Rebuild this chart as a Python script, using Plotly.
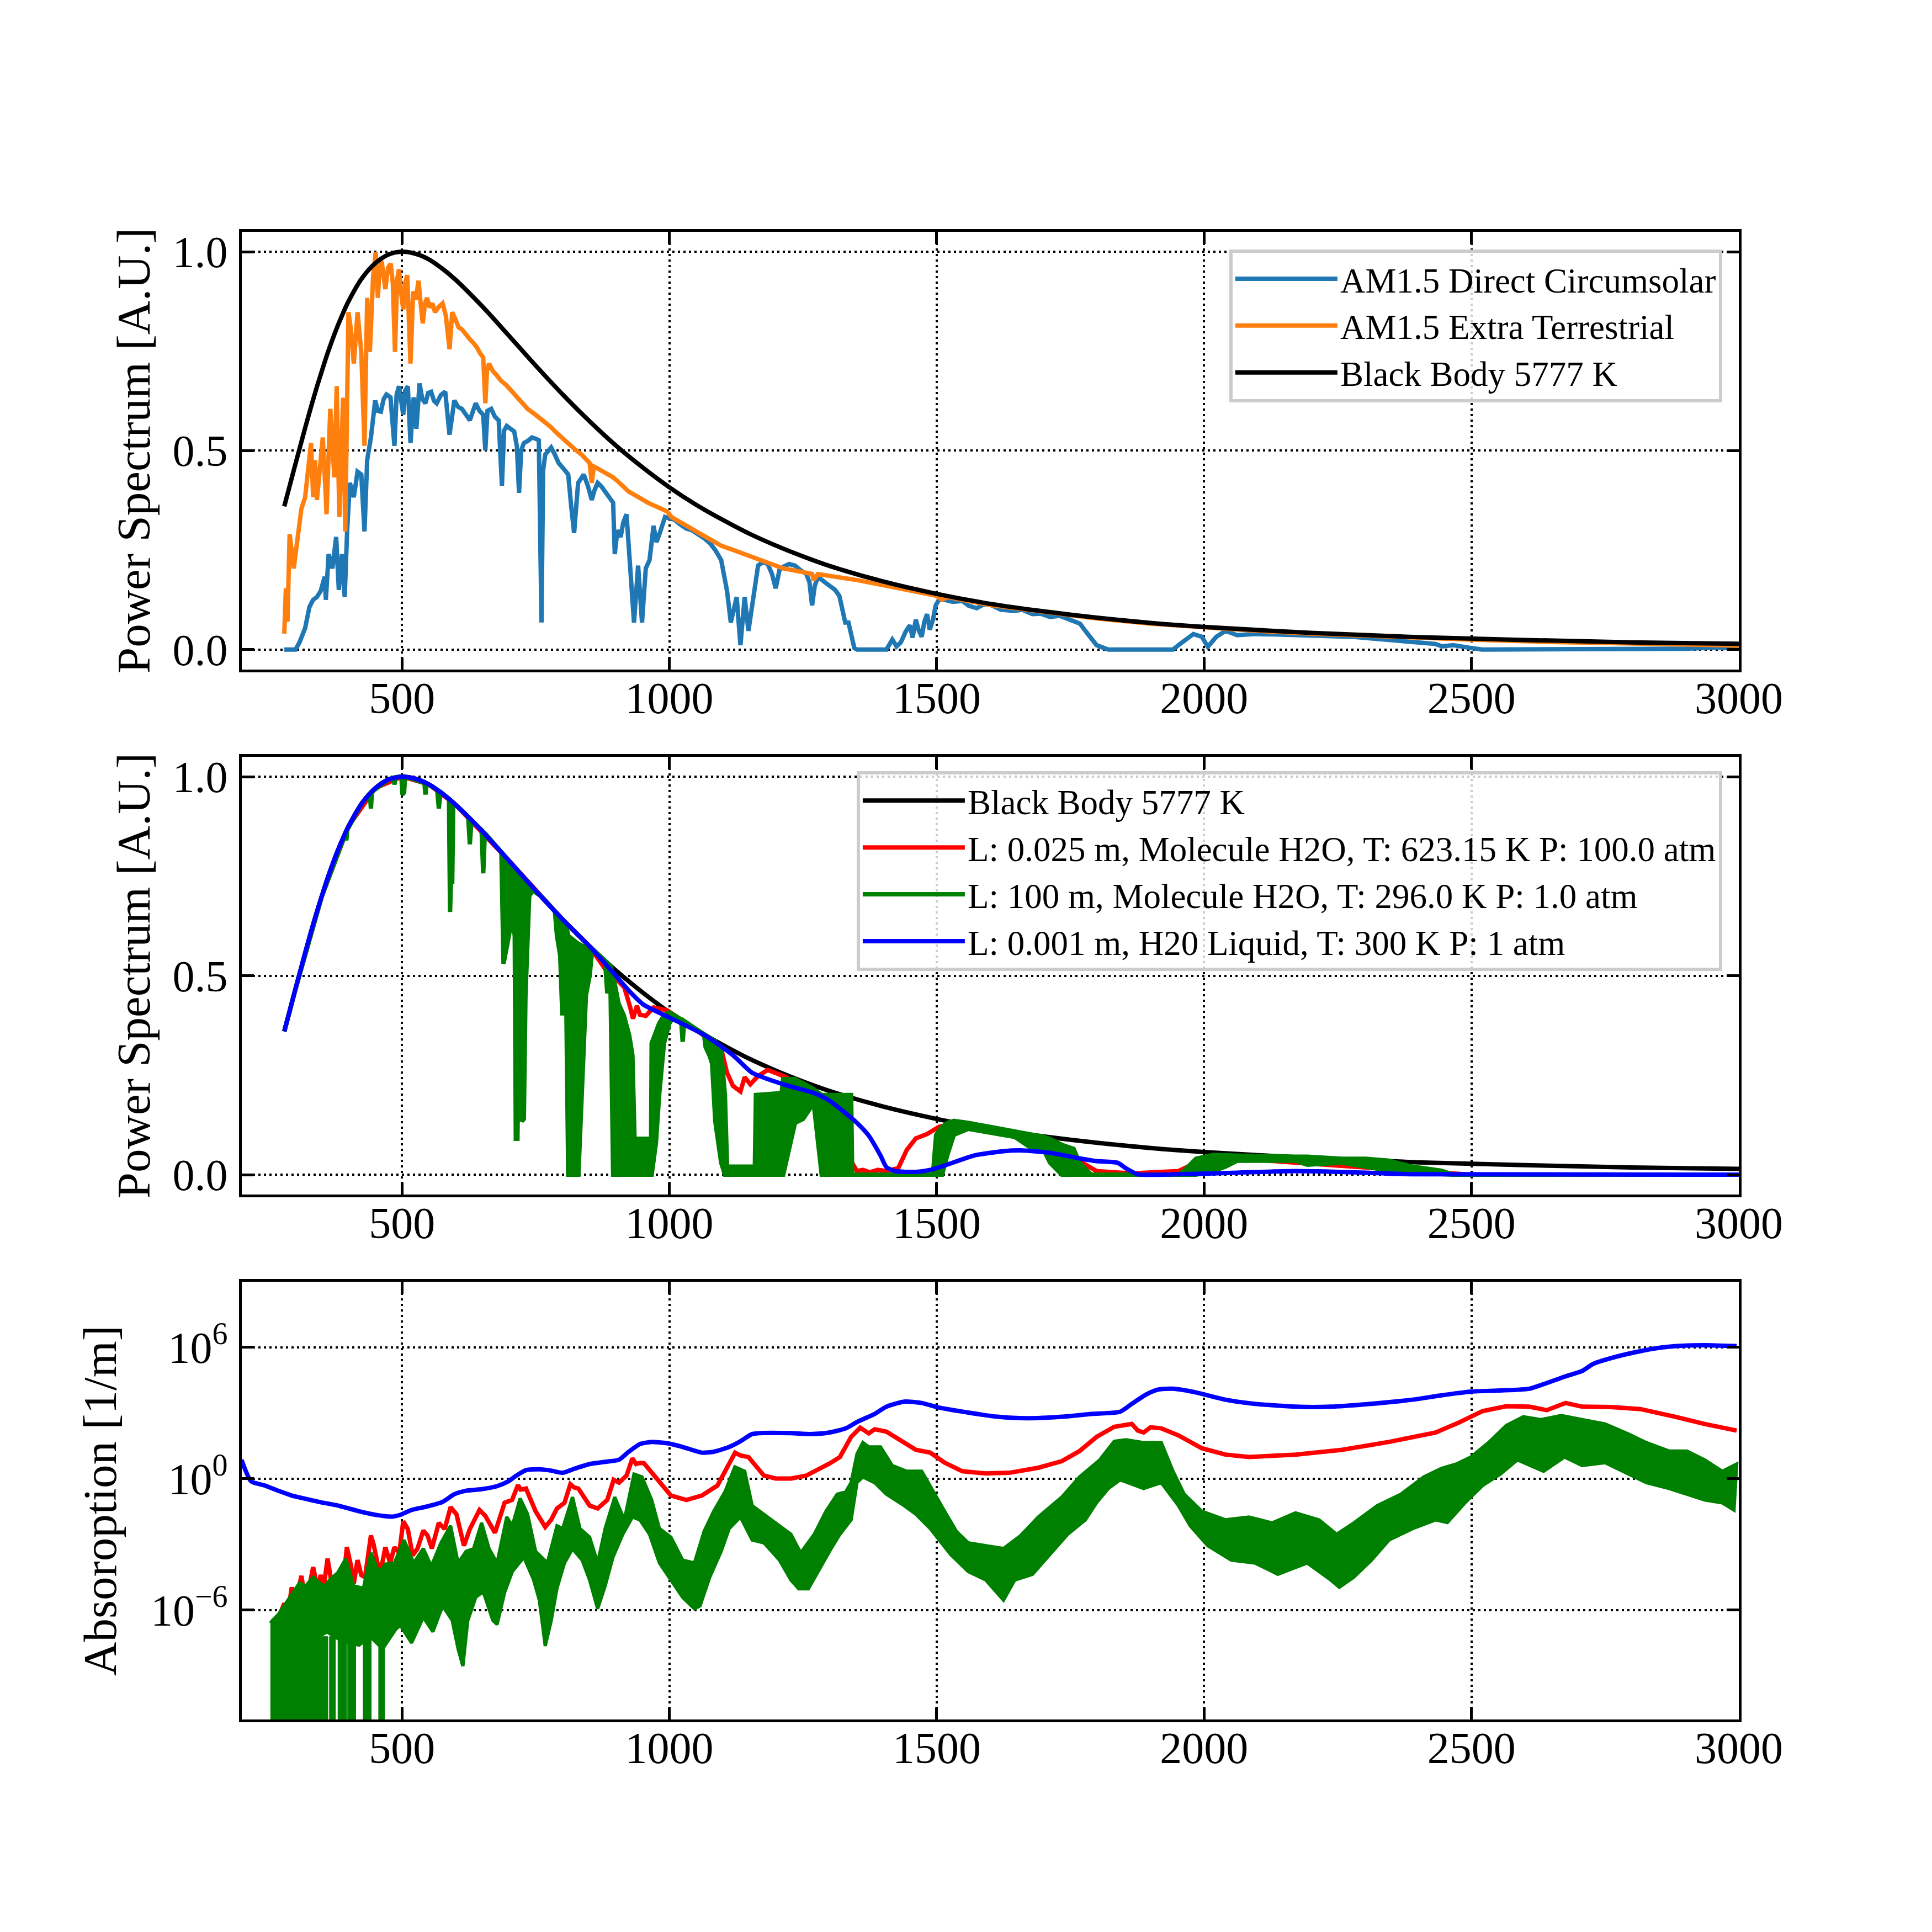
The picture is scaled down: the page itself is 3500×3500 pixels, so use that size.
import plotly.graph_objects as go

FONT = "Liberation Serif"

# ---------------- data ----------------
tick_nm = [500, 1000, 1500, 2000, 2500, 3000]
tick_nm_text = ["500", "1000", "1500", "2000", "2500", "3000"]
lin_ticks = [0.0, 0.5, 1.0]
lin_ticks_text = ["0.0", "0.5", "1.0"]
log_ticks = [1e-6, 1.0, 1e6]
log_ticks_text = ["10<sup>\u22126</sup>", "10<sup>0</sup>", "10<sup>6</sup>"]

# Black body 5777 K, normalised
bb_nm = [280, 290, 300, 310, 320, 330, 340, 350, 360, 370, 380, 390, 400, 425, 450, 475, 500, 525,
         550, 575, 600, 650, 700, 750, 800, 850, 900, 950, 1000, 1050, 1100, 1150, 1200, 1250, 1300,
         1400, 1500, 1600, 1700, 1800, 1900, 2000, 2200, 2400, 2600, 2800, 3000]
bb_val = [0.36, 0.411, 0.462, 0.512, 0.562, 0.61, 0.656, 0.699, 0.741, 0.779, 0.814, 0.846, 0.875,
          0.933, 0.971, 0.993, 1.0, 0.995, 0.981, 0.958, 0.93, 0.863, 0.789, 0.714, 0.642, 0.575,
          0.513, 0.458, 0.408, 0.364, 0.326, 0.291, 0.261, 0.234, 0.21, 0.171, 0.14, 0.115, 0.096,
          0.08, 0.067, 0.057, 0.042, 0.031, 0.024, 0.018, 0.0144]

# AM1.5 direct circumsolar (top panel)
direct_pts = [(280, 0), (301, 0), (308.5, 0.018), (319, 0.054), (327, 0.107), (334, 0.125), (341, 0.132),
              (348, 0.147), (355.6, 0.183), (357.7, 0.125), (363, 0.24), (370, 0.204), (377, 0.283),
              (382, 0.15), (388, 0.24), (393, 0.132), (397.5, 0.297), (402.6, 0.419), (410, 0.383),
              (417, 0.447), (424, 0.44), (430, 0.297), (435, 0.476), (442, 0.533), (450, 0.626),
              (455, 0.60), (460.5, 0.598), (466, 0.63), (471, 0.641), (478.6, 0.634), (486, 0.512),
              (490, 0.64), (494.5, 0.662), (502.5, 0.59), (506, 0.65), (511, 0.662), (516, 0.519),
              (522, 0.634), (527, 0.555), (533, 0.669), (538, 0.63), (544, 0.619), (549, 0.645),
              (554.6, 0.648), (560, 0.625), (565, 0.619), (573, 0.64), (581, 0.648), (589, 0.54),
              (598, 0.626), (605, 0.61), (612, 0.605), (620, 0.59), (627, 0.576), (633, 0.60),
              (638, 0.619), (645, 0.60), (652, 0.59), (656, 0.501), (660, 0.60), (667, 0.605),
              (674, 0.585), (681, 0.576), (687, 0.412), (691, 0.55), (696, 0.562), (703, 0.555),
              (710, 0.548), (715, 0.51), (719, 0.394), (723, 0.50), (728, 0.519), (736, 0.525),
              (743, 0.533), (750, 0.53), (756, 0.526), (761, 0.068), (764, 0.45), (768, 0.49),
              (773, 0.50), (779, 0.508), (786, 0.49), (793, 0.469), (802, 0.455), (811, 0.44),
              (816.5, 0.361), (822, 0.293), (829.5, 0.419), (835, 0.43), (840, 0.44), (848, 0.41),
              (855, 0.376), (860, 0.40), (866, 0.419), (873, 0.41), (880, 0.397), (888, 0.38),
              (895, 0.369), (898, 0.24), (903, 0.30), (909, 0.283), (914, 0.32), (920, 0.34),
              (927, 0.218), (934, 0.068), (941.7, 0.211), (949, 0.068), (956, 0.204), (963, 0.225),
              (970.6, 0.311), (976, 0.27), (981.5, 0.29), (986, 0.31), (992, 0.333), (1000, 0.33),
              (1010, 0.326), (1020, 0.315), (1032, 0.304), (1042, 0.30), (1054, 0.29), (1065, 0.28),
              (1075.6, 0.268), (1086, 0.25), (1097, 0.225), (1108, 0.147), (1115, 0.068),
              (1126, 0.132), (1133, 0.011), (1141, 0.132), (1148, 0.047), (1159, 0.14), (1166, 0.211),
              (1175, 0.22), (1184, 0.215), (1192, 0.19), (1199, 0.154), (1206, 0.20), (1213, 0.208),
              (1224, 0.215), (1235, 0.211), (1245, 0.20), (1256, 0.19), (1262, 0.17), (1267, 0.111),
              (1272, 0.16), (1278, 0.183), (1290, 0.17), (1300, 0.161), (1310, 0.15), (1318, 0.135),
              (1324, 0.10), (1329, 0.068), (1335, 0.068), (1346, 0.004), (1351, 0), (1406, 0),
              (1417, 0.025), (1425, 0.008), (1433, 0.018), (1442, 0.045), (1450, 0.061), (1455, 0.03),
              (1461, 0.075), (1466, 0.05), (1472, 0.032), (1477, 0.07), (1482, 0.089), (1487, 0.05),
              (1493, 0.075), (1498, 0.11), (1504, 0.125), (1515, 0.125), (1530, 0.12), (1548, 0.122),
              (1560, 0.11), (1575, 0.104), (1590, 0.115), (1603, 0.111), (1620, 0.10), (1646, 0.097),
              (1660, 0.10), (1679, 0.089), (1695, 0.09), (1712, 0.082), (1730, 0.085), (1756, 0.072),
              (1768, 0.065), (1778, 0.047), (1790, 0.025), (1799, 0.011), (1821, 0), (1942, 0),
              (1952, 0.011), (1965, 0.025), (1980, 0.039), (1996, 0.032), (2007, 0.007),
              (2023, 0.032), (2040, 0.047), (2062, 0.036), (2095, 0.039), (2130, 0.038),
              (2171, 0.036), (2230, 0.034), (2280, 0.032), (2330, 0.026), (2368, 0.021),
              (2400, 0.017), (2433, 0.014), (2445, 0.008), (2466, 0.011), (2499, 0.004), (2520, 0.0),
              (2900, 0.002), (2960, 0.005), (3000, 0.003)]

# AM1.5 extra terrestrial (top panel)
extra_pts = [(280, 0.04), (283, 0.154), (286, 0.07), (290, 0.29), (297.7, 0.204), (305, 0.276),
             (308.5, 0.304), (312, 0.354), (319, 0.383), (330, 0.519), (334, 0.383), (337.5, 0.476),
             (341, 0.376), (352, 0.533), (357.7, 0.383), (359, 0.34), (366, 0.605), (373.7, 0.433),
             (378, 0.662), (383, 0.333), (390, 0.633), (394, 0.297), (400, 0.848), (405, 0.80),
             (410, 0.719), (417, 0.848), (424, 0.748), (430, 0.512), (435, 0.884), (440, 0.748),
             (446, 0.934), (451, 0.999), (455, 0.884), (458, 0.95), (462, 0.977), (466, 0.93),
             (469, 0.906), (474, 0.96), (479, 0.97), (483, 0.92), (487, 0.748), (491, 0.93),
             (494.5, 0.956), (498, 0.90), (502.5, 0.855), (506, 0.92), (510, 0.941), (516, 0.719),
             (521, 0.9), (526, 0.88), (531, 0.927), (535, 0.87), (539, 0.82), (543, 0.87),
             (547, 0.884), (552, 0.86), (557, 0.87), (562, 0.848), (568, 0.86), (576, 0.87),
             (582, 0.84), (589, 0.755), (594, 0.848), (600, 0.83), (606, 0.81), (612, 0.805),
             (620, 0.79), (627, 0.78), (634, 0.77), (640, 0.76), (646, 0.745), (652, 0.734),
             (656, 0.619), (659, 0.70), (663, 0.719), (670, 0.70), (677, 0.69), (685, 0.676),
             (695, 0.665), (706.5, 0.648), (720, 0.63), (735, 0.605), (750, 0.59), (764, 0.576),
             (778, 0.56), (793, 0.54), (808, 0.52), (822, 0.505), (836, 0.49), (851, 0.469),
             (855, 0.419), (859, 0.46), (866, 0.455), (880, 0.445), (895, 0.433), (910, 0.415),
             (924, 0.397), (940, 0.385), (960, 0.369), (978, 0.358), (996, 0.347), (1004, 0.333),
             (1018, 0.322), (1032, 0.311), (1050, 0.297), (1068, 0.283), (1083, 0.272), (1097, 0.261),
             (1120, 0.25), (1141, 0.24), (1162, 0.228), (1184, 0.218), (1199, 0.21), (1213, 0.204),
             (1245, 0.196), (1267, 0.19), (1270, 0.175), (1278, 0.19), (1300, 0.185), (1350, 0.175),
             (1400, 0.162), (1450, 0.148), (1500, 0.135), (1510, 0.125), (1520, 0.132), (1600, 0.112),
             (1650, 0.103), (1700, 0.094), (1800, 0.078), (1900, 0.065), (2000, 0.055), (2100, 0.047),
             (2200, 0.04), (2350, 0.032), (2500, 0.025), (2650, 0.019), (2800, 0.015), (3000, 0.01)]

# Liquid water 1 mm (middle panel)
liquid_pts = [(280, 0.36), (290, 0.411), (300, 0.462), (310, 0.512), (320, 0.562), (330, 0.61),
              (340, 0.656), (350, 0.699), (360, 0.741), (370, 0.779), (380, 0.814), (390, 0.846),
              (400, 0.875), (425, 0.933), (450, 0.971), (475, 0.993), (500, 1.0), (525, 0.995),
              (550, 0.981), (575, 0.958), (600, 0.93), (650, 0.863), (700, 0.789), (750, 0.714),
              (800, 0.642), (850, 0.575), (887, 0.52), (924, 0.463), (952, 0.427), (1000, 0.395),
              (1068, 0.349), (1119, 0.30), (1155, 0.256), (1213, 0.227), (1271, 0.205), (1297, 0.188),
              (1319, 0.166), (1351, 0.13), (1373, 0.098), (1395, 0.048), (1406, 0.019), (1422, 0.009),
              (1461, 0.007), (1488, 0.012), (1515, 0.023), (1570, 0.048), (1625, 0.059), (1657, 0.061),
              (1712, 0.055), (1767, 0.041), (1799, 0.034), (1838, 0.03), (1854, 0.016), (1876, 0.001),
              (1952, 0.001), (2062, 0.005), (2171, 0.009), (2280, 0.006), (2390, 0.001), (3000, 0.0)]

# H2O gas, L 0.025 m, 623.15 K, 100 atm (middle panel)
hot_pts = [(280, 0.36), (300, 0.462), (350, 0.699), (400, 0.875), (450, 0.971), (500, 1.0),
           (550, 0.981), (600, 0.93), (700, 0.789), (800, 0.642), (850, 0.575), (881, 0.515),
           (895, 0.5), (916, 0.47), (927, 0.42), (932, 0.392), (939.5, 0.424), (945, 0.402),
           (956, 0.399), (970.6, 0.42), (996, 0.413), (1050, 0.364), (1097, 0.316), (1108, 0.256),
           (1119, 0.223), (1133, 0.209), (1141, 0.245), (1151.5, 0.227), (1166, 0.248), (1184, 0.263),
           (1213, 0.248), (1256.5, 0.22), (1285, 0.191), (1300, 0.175), (1314, 0.155), (1319, 0.141),
           (1330, 0.098), (1340, 0.034), (1351, 0.009), (1362, 0.012), (1375, 0.006), (1390, 0.012),
           (1406, 0.009), (1428, 0.016), (1444, 0.062), (1461, 0.091), (1482, 0.102), (1504, 0.12),
           (1526, 0.127), (1559, 0.12), (1625, 0.109), (1690, 0.094), (1734, 0.073), (1767, 0.034),
           (1799, 0.009), (1865, 0.003), (1952, 0.009), (1985, 0.03), (2018, 0.041), (2062, 0.041),
           (2171, 0.03), (2280, 0.021), (2368, 0.012), (2444, 0.005), (2499, 0.0), (3000, 0.0)]

# H2O gas, L 100 m, 296 K, 1 atm (middle panel): (nm, upper, lower)
cold_band = [(280, 0.36, 0.36), (300, 0.462, 0.462), (350, 0.699, 0.699), (390, 0.846, 0.846),
             (394, 0.857, 0.857), (396, 0.862, 0.84), (398, 0.867, 0.867), (425, 0.933, 0.933),
             (440, 0.958, 0.958), (442, 0.96, 0.92), (444, 0.963, 0.963), (475, 0.993, 0.993),
             (485, 0.997, 0.997), (486, 0.997, 0.98), (488, 0.998, 0.998), (499, 1.0, 1.0),
             (501, 1.0, 0.955), (504, 1.0, 0.96), (506, 1.0, 1.0), (542, 0.985, 0.985),
             (544, 0.984, 0.955), (546, 0.983, 0.983), (566, 0.967, 0.967), (569, 0.965, 0.92),
             (572, 0.962, 0.962), (588, 0.944, 0.944), (590, 0.942, 0.66), (592, 0.94, 0.75),
             (594, 0.937, 0.73), (596, 0.935, 0.935), (624, 0.899, 0.899), (627, 0.895, 0.83),
             (630, 0.89, 0.89), (649, 0.866, 0.866), (652, 0.862, 0.757), (655, 0.858, 0.858),
             (686, 0.81, 0.81), (690, 0.803, 0.53), (695, 0.795, 0.56), (700, 0.789, 0.6),
             (706, 0.78, 0.65), (711, 0.772, 0.6), (713, 0.77, 0.09), (716, 0.766, 0.09),
             (718, 0.762, 0.30), (721, 0.758, 0.55), (724, 0.754, 0.134), (728, 0.747, 0.14),
             (731, 0.742, 0.45), (734, 0.738, 0.55), (738, 0.72, 0.70), (745, 0.714, 0.714),
             (760, 0.70, 0.70), (786, 0.662, 0.662), (790, 0.655, 0.6), (796, 0.648, 0.55),
             (800, 0.642, 0.4), (806, 0.633, 0.6), (811, 0.6, 0.0), (830, 0.58, 0.0),
             (837, 0.575, 0.2), (844, 0.57, 0.45), (851, 0.565, 0.5), (856, 0.567, 0.567),
             (880, 0.537, 0.537), (884, 0.533, 0.456), (890, 0.525, 0.48), (895, 0.5, 0.0),
             (905, 0.43, 0.0), (915, 0.40, 0.0), (925, 0.35, 0.0), (931, 0.3, 0.0), (935, 0.09, 0.0),
             (950, 0.09, 0.0), (966, 0.09, 0.0), (967, 0.33, 0.0), (975, 0.36, 0.08),
             (981, 0.38, 0.2), (990, 0.40, 0.33), (1000, 0.408, 0.38), (1010, 0.40, 0.40),
             (1022, 0.39, 0.39), (1025, 0.388, 0.334), (1028, 0.386, 0.386), (1065, 0.352, 0.352),
             (1068, 0.35, 0.32), (1075, 0.344, 0.30), (1080, 0.34, 0.28), (1086, 0.335, 0.134),
             (1097, 0.31, 0.03), (1104, 0.2, 0.0), (1108, 0.02, 0.0), (1160, 0.02, 0.0),
             (1162, 0.2, 0.0), (1210, 0.205, 0.0), (1213, 0.24, 0.0), (1235, 0.24, 0.13),
             (1250, 0.23, 0.14), (1270, 0.215, 0.18), (1285, 0.2, 0.0), (1340, 0.2, 0.0),
             (1342, 0.0, 0.0), (1493, 0.0, 0.0), (1499, 0.1, 0.0), (1510, 0.12, 0.0),
             (1520, 0.13, 0.05), (1532, 0.135, 0.1), (1559, 0.13, 0.115), (1625, 0.115, 0.1),
             (1646, 0.11, 0.095), (1679, 0.1, 0.065), (1701, 0.095, 0.06), (1712, 0.09, 0.03),
             (1734, 0.075, 0.0), (1756, 0.065, 0.0), (1767, 0.03, 0.0), (1789, 0.0, 0.0),
             (1952, 0.0, 0.0), (1963, 0.01, 0.0), (1985, 0.04, 0.0), (2018, 0.05, 0.01),
             (2040, 0.05, 0.02), (2062, 0.048, 0.035), (2171, 0.045, 0.035), (2193, 0.045, 0.025),
             (2258, 0.04, 0.03), (2302, 0.04, 0.02), (2346, 0.035, 0.01), (2390, 0.02, 0.005),
             (2444, 0.01, 0.0), (2466, 0.0, 0.0), (3000, 0.0, 0.0)]

# Absorption coefficients, log10(1/m) (bottom panel)
abs_liquid_log = [(200, 0.86), (218, -0.12), (243, -0.31), (272, -0.58), (294, -0.77), (316, -0.9),
                  (345, -1.06), (381, -1.23), (417, -1.47), (453, -1.66), (482, -1.73), (497, -1.65),
                  (518, -1.43), (547, -1.27), (576, -1.06), (598, -0.71), (620, -0.55), (649, -0.48),
                  (678, -0.34), (699, -0.12), (714, 0.14), (732, 0.39), (757, 0.43), (779, 0.37),
                  (800.6, 0.27), (822, 0.45), (851, 0.67), (880, 0.77), (905.5, 0.86), (923.6, 1.22),
                  (945, 1.58), (967, 1.68), (996, 1.62), (1025, 1.45), (1061, 1.19), (1083, 1.23),
                  (1112, 1.45), (1133, 1.71), (1155, 2.04), (1177, 2.09), (1228, 2.08), (1264, 2.04),
                  (1297, 2.1), (1330, 2.3), (1351, 2.59), (1384, 2.96), (1406, 3.29), (1439, 3.52),
                  (1472, 3.46), (1504, 3.25), (1559, 3.02), (1614, 2.83), (1668, 2.76), (1734, 2.83),
                  (1789, 2.96), (1843, 3.06), (1865, 3.42), (1892, 3.85), (1914, 4.07), (1942, 4.11),
                  (1985, 3.94), (2040, 3.61), (2095, 3.42), (2171, 3.29), (2237, 3.29), (2302, 3.4),
                  (2390, 3.61), (2444, 3.81), (2499, 3.98), (2554, 4.03), (2608, 4.11), (2641, 4.37),
                  (2674, 4.66), (2707, 4.92), (2728, 5.25), (2761, 5.51), (2805, 5.77), (2849, 5.97),
                  (2892, 6.07), (2936, 6.1), (2996, 6.06)]

abs_hot_log = [(270, -6.3), (280, -5.7), (287, -6.1), (294, -4.96), (300, -5.8), (312, -4.44),
               (319, -5.5), (327, -4.9), (334, -4.04), (343, -5.1), (348, -4.4), (354, -4.9),
               (361, -3.65), (370, -5.0), (381, -4.5), (388, -5.3), (397, -3.13), (405, -4.0),
               (410, -4.8), (417, -3.72), (424, -4.4), (431, -4.5), (442, -2.6), (447, -3.0),
               (459, -4.4), (469, -3.13), (478, -3.85), (486, -3.13), (495, -3.4), (502.5, -1.95),
               (511, -2.3), (520, -3.5), (529, -3.2), (540, -2.37), (548, -2.6), (556, -3.19),
               (569, -2.02), (580, -2.3), (591, -1.3), (602, -1.63), (616, -3.06), (627, -2.3),
               (645, -1.43), (656, -1.7), (674, -2.47), (692, -1.1), (706, -0.97), (717, -0.29),
               (722, -0.5), (732, -0.45), (750, -1.49), (768, -2.21), (779, -1.88), (790, -1.36),
               (804, -1.1), (815, -0.25), (822, -0.4), (830, -0.45), (851, -1.23), (866, -1.36),
               (884, -0.97), (896, -0.05), (906, -0.18), (920, 0.14), (931, 0.93), (938, 0.67),
               (945, 0.72), (952.5, 0.71), (974, 0.08), (1003, -0.77), (1032, -0.97), (1061, -0.77),
               (1090, -0.31), (1112, 0.73), (1123, 1.19), (1133, 1.06), (1148, 0.99), (1177, 0.14),
               (1199, 0.01), (1228, 0.01), (1256, 0.14), (1300, 0.7), (1319, 0.99), (1340, 1.91),
               (1357, 2.33), (1373, 2.07), (1384, 2.26), (1406, 2.15), (1439, 1.65), (1461, 1.32),
               (1488, 1.19), (1515, 0.73), (1548, 0.34), (1592, 0.24), (1636, 0.27), (1690, 0.5),
               (1734, 0.8), (1767, 1.26), (1799, 1.91), (1832, 2.37), (1865, 2.5), (1876, 2.2),
               (1887, 2.11), (1900, 2.35), (1920, 2.3), (1952, 1.98), (1996, 1.39), (2040, 1.1),
               (2084, 0.99), (2171, 1.1), (2258, 1.32), (2346, 1.68), (2433, 2.11), (2477, 2.57),
               (2521, 3.09), (2565, 3.31), (2608, 3.29), (2641, 3.13), (2676, 3.46), (2707, 3.29),
               (2761, 3.27), (2816, 3.18), (2881, 2.83), (2936, 2.5), (2996, 2.2)]

abs_cold_upper_log = [(254, -6.6), (258, -6.47), (269, -6.2), (280, -5.81), (294, -5.29), (308.5, -4.76),
                      (320, -4.9), (334, -4.5), (345, -4.76), (356, -4.9), (366, -4.6), (380, -4.3),
                      (395, -3.65), (410, -4.9), (428, -5.0), (442, -3.39), (457, -4.3), (469, -3.9),
                      (486, -3.85), (504, -2.8), (522, -3.85), (540, -3.19), (555, -4.0), (573, -2.93),
                      (591, -2.15), (605, -3.85), (620, -3.32), (634, -3.2), (649, -2.02), (663, -3.2),
                      (678, -3.85), (696, -1.75), (706.5, -2.15), (721, -0.9), (735, -1.62), (750, -3.32),
                      (772, -3.85), (790, -2.15), (800.6, -2.28), (819, -0.84), (833, -2.28), (851, -2.67),
                      (866, -3.85), (880, -2.28), (898, -0.84), (916, -1.88), (934, 0.21), (949, 0.08),
                      (967, -0.97), (981.5, -2.28), (1003, -2.67), (1025, -3.72), (1047, -3.85),
                      (1065, -2.41), (1083, -1.49), (1104.5, -0.58), (1122.6, 0.54), (1141, 0.34),
                      (1155, -1.23), (1184, -1.75), (1206, -2.15), (1227.5, -2.54), (1245.6, -3.39),
                      (1271, -2.54), (1293, -1.49), (1314, -0.71), (1330, -0.6), (1340, -0.18),
                      (1351, 1.13), (1362, 1.65), (1373, 1.45), (1395, 1.45), (1417, 0.6), (1444, 0.34),
                      (1472, 0.34), (1493, -0.58), (1515, -1.49), (1537, -2.41), (1559, -2.93),
                      (1592, -3.06), (1625, -3.19), (1657, -2.6), (1690, -1.75), (1734, -0.84),
                      (1767, 0.08), (1805, 0.86), (1832, 1.71), (1854, 1.78), (1887, 1.65), (1920, 1.65),
                      (1942, 0.34), (1963, -0.71), (1996, -1.49), (2040, -1.88), (2084, -1.75),
                      (2127, -2.02), (2171, -1.56), (2215, -1.88), (2248, -2.54), (2280, -2.02),
                      (2324, -1.23), (2368, -0.71), (2411, 0.08), (2444, 0.47), (2472, 0.67), (2499, 0.99),
                      (2532, 1.65), (2565, 2.43), (2597, 2.83), (2630, 2.7), (2668, 2.89), (2707, 2.7),
                      (2750, 2.5), (2794, 2.04), (2827, 1.65), (2870, 1.26), (2903, 1.26), (2936, 0.86),
                      (2969, 0.34), (2996, 0.67)]

abs_cold_lower_log = [(254, -13.0), (335, -13.0), (336, -7.6), (345, -7.2), (360, -7.0), (380, -7.3),
                      (400, -7.5), (420, -7.6), (440, -7.2), (464, -7.77), (489, -6.86), (497, -6.7),
                      (518, -7.5), (540, -6.33), (558, -6.99), (576, -5.81), (594, -6.47), (605, -7.77),
                      (614, -8.56), (623, -6.5), (638, -5.42), (652, -5.16), (670, -6.47), (678, -6.66),
                      (692, -5.2), (706.5, -4.24), (728, -3.59), (746, -4.6), (757, -5.55), (768, -7.64),
                      (779, -6.5), (790, -5.0), (804, -3.85), (819, -3.2), (837, -3.72), (851, -4.63),
                      (866, -5.94), (880, -4.9), (894.6, -3.59), (913, -2.54), (931, -1.75), (945, -1.88),
                      (963, -2.54), (981.5, -3.85), (1003, -4.63), (1025, -5.42), (1047, -5.94),
                      (1057.5, -5.81), (1075.6, -4.5), (1097, -3.32), (1112, -2.28), (1133, -1.75),
                      (1155, -2.8), (1177, -2.93), (1206, -3.72), (1227.5, -4.63), (1242, -5.03),
                      (1260, -5.03), (1278, -4.24), (1300, -3.3), (1319, -2.54), (1340, -1.88),
                      (1351, -0.18), (1362, 0.08), (1384, -0.18), (1406, -0.71), (1439, -1.23),
                      (1461, -1.62), (1488, -2.28), (1504, -2.8), (1526, -3.46), (1559, -4.24),
                      (1592, -4.63), (1625, -5.55), (1646, -4.63), (1679, -4.37), (1712, -3.46),
                      (1745, -2.54), (1778, -1.88), (1799, -1.1), (1821, -0.45), (1843, -0.05),
                      (1887, -0.45), (1920, -0.18), (1952, -1.23), (1974, -2.15), (2007, -3.06),
                      (2051, -3.72), (2095, -3.85), (2138, -4.37), (2193, -3.85), (2237, -4.63),
                      (2253, -4.96), (2280, -4.5), (2313, -3.72), (2346, -2.8), (2390, -2.28),
                      (2433, -1.88), (2455, -2.0), (2488, -1.1), (2521, -0.31), (2554, 0.21), (2586, 0.86),
                      (2635, 0.34), (2674, 0.99), (2707, 0.6), (2750, 0.73), (2794, 0.21), (2827, -0.18),
                      (2870, -0.45), (2903, -0.71), (2936, -0.97), (2969, -1.1), (2991, -1.43)]

# narrow absorption spikes reaching below the axis (nm)
abs_cold_spikes_nm = [336, 340, 346, 352, 358, 368, 372, 384, 388, 393, 402, 406, 410, 431, 435, 439, 460, 464]
abs_spike_top_log = -7.2
abs_spike_bottom_log = -13.0

# ---------------- figure ----------------
BLUE_T, ORANGE_T = "#1f77b4", "#ff7f0e"
RED, GREEN, BLUE = "#ff0000", "#008000", "#0000ff"
LW = 8


def xs(pts):
    return [p[0] for p in pts]


def col(pts, i):
    return [p[i] for p in pts]


def pow10(vals):
    return [10 ** v for v in vals]


fig = go.Figure()

# top panel
fig.add_trace(go.Scatter(x=xs(direct_pts), y=col(direct_pts, 1), mode="lines",
                         line=dict(color=BLUE_T, width=LW), name="AM1.5 Direct Circumsolar",
                         xaxis="x", yaxis="y", legend="legend"))
fig.add_trace(go.Scatter(x=xs(extra_pts), y=col(extra_pts, 1), mode="lines",
                         line=dict(color=ORANGE_T, width=LW), name="AM1.5 Extra Terrestrial",
                         xaxis="x", yaxis="y", legend="legend"))
fig.add_trace(go.Scatter(x=bb_nm, y=bb_val, mode="lines", line=dict(color="black", width=LW, shape="spline"),
                         name="Black Body 5777 K", xaxis="x", yaxis="y", legend="legend"))

# middle panel
fig.add_trace(go.Scatter(x=bb_nm, y=bb_val, mode="lines", line=dict(color="black", width=LW, shape="spline"),
                         name="Black Body 5777 K", xaxis="x2", yaxis="y2", legend="legend2"))
fig.add_trace(go.Scatter(x=xs(hot_pts), y=col(hot_pts, 1), mode="lines", line=dict(color=RED, width=LW),
                         name="L: 0.025 m, Molecule H2O, T: 623.15 K P: 100.0 atm",
                         xaxis="x2", yaxis="y2", legend="legend2"))
fig.add_trace(go.Scatter(x=xs(cold_band), y=col(cold_band, 1), mode="lines", line=dict(color=GREEN, width=LW),
                         name="L: 100 m, Molecule H2O, T: 296.0 K P: 1.0 atm",
                         xaxis="x2", yaxis="y2", legend="legend2"))
fig.add_trace(go.Scatter(x=xs(cold_band), y=col(cold_band, 2), mode="lines", line=dict(color=GREEN, width=LW),
                         fill="tonexty", fillcolor=GREEN, showlegend=False, xaxis="x2", yaxis="y2"))
fig.add_trace(go.Scatter(x=xs(liquid_pts), y=col(liquid_pts, 1), mode="lines",
                         line=dict(color=BLUE, width=LW, shape="spline", smoothing=0.6),
                         name="L: 0.001 m, H20 Liquid, T: 300 K P: 1 atm",
                         xaxis="x2", yaxis="y2", legend="legend2"))

# bottom panel
fig.add_trace(go.Scatter(x=xs(abs_hot_log), y=pow10(col(abs_hot_log, 1)), mode="lines",
                         line=dict(color=RED, width=LW), showlegend=False, xaxis="x3", yaxis="y3"))
band_x = xs(abs_cold_upper_log) + xs(abs_cold_lower_log)[::-1]
band_y = pow10(col(abs_cold_upper_log, 1) + col(abs_cold_lower_log, 1)[::-1])
fig.add_trace(go.Scatter(x=band_x, y=band_y, mode="lines", line=dict(color=GREEN, width=6),
                         fill="toself", fillcolor=GREEN, showlegend=False, xaxis="x3", yaxis="y3"))
spike_x, spike_y = [], []
for s in abs_cold_spikes_nm:
    spike_x += [s, s, None]
    spike_y += [10 ** abs_spike_top_log, 10 ** abs_spike_bottom_log, None]
fig.add_trace(go.Scatter(x=spike_x, y=spike_y, mode="lines", line=dict(color=GREEN, width=8),
                         showlegend=False, xaxis="x3", yaxis="y3"))
fig.add_trace(go.Scatter(x=xs(abs_liquid_log), y=pow10(col(abs_liquid_log, 1)), mode="lines",
                         line=dict(color=BLUE, width=LW, shape="spline", smoothing=0.6),
                         showlegend=False, xaxis="x3", yaxis="y3"))

tickfont = dict(family=FONT, size=80, color="black")
titlefont = dict(family=FONT, size=85, color="black")


def xaxis(anchor):
    return dict(domain=[0.125, 0.9], anchor=anchor, range=[200, 3000], tickvals=tick_nm,
                ticktext=tick_nm_text, ticks="inside", ticklen=22, tickwidth=5, tickcolor="black",
                showline=True, linecolor="black", linewidth=5, mirror="ticks", showgrid=True,
                gridcolor="black", gridwidth=3.5, griddash="4px,6px", zeroline=False,
                tickfont=tickfont, ticklabelstandoff=-22, automargin=False)


def yaxis(anchor, dom, **kw):
    d = dict(domain=dom, anchor=anchor, ticks="inside", ticklen=22, tickwidth=5, tickcolor="black",
             showline=True, linecolor="black", linewidth=5, mirror="ticks", showgrid=True,
             gridcolor="black", gridwidth=3.5, griddash="4px,6px", zeroline=False, tickfont=tickfont,
             ticklabelstandoff=4, automargin=False)
    d.update(kw)
    return d


legend_common = dict(xanchor="right", yanchor="top", bgcolor="rgba(255,255,255,0.8)", bordercolor="#cccccc",
                     borderwidth=6, font=dict(family=FONT, size=63, color="black"), itemwidth=185,
                     tracegroupgap=0, traceorder="normal")

fig.update_layout(
    width=3500, height=3500, margin=dict(l=0, r=0, t=0, b=0, autoexpand=False),
    paper_bgcolor="white", plot_bgcolor="white", font=dict(family=FONT, color="black"),
    xaxis=xaxis("y"), xaxis2=xaxis("y2"), xaxis3=xaxis("y3"),
    yaxis=yaxis("x", [0.6535, 0.88], range=[-0.05, 1.05], tickvals=lin_ticks, ticktext=lin_ticks_text,
                title=dict(text="Power Spectrum [A.U.]", font=titlefont, standoff=14)),
    yaxis2=yaxis("x2", [0.3817, 0.6083], range=[-0.05, 1.05], tickvals=lin_ticks, ticktext=lin_ticks_text,
                 title=dict(text="Power Spectrum [A.U.]", font=titlefont, standoff=14)),
    yaxis3=yaxis("x3", [0.11, 0.3366], type="log", range=[-11, 9], tickvals=log_ticks,
                 ticktext=log_ticks_text,
                 title=dict(text="Absoroption [1/m]", font=titlefont, standoff=36)),
    legend=dict(x=0.8914, y=0.871, **legend_common),
    legend2=dict(x=0.8914, y=0.6009, **legend_common),
)

fig.write_html("out.html")
